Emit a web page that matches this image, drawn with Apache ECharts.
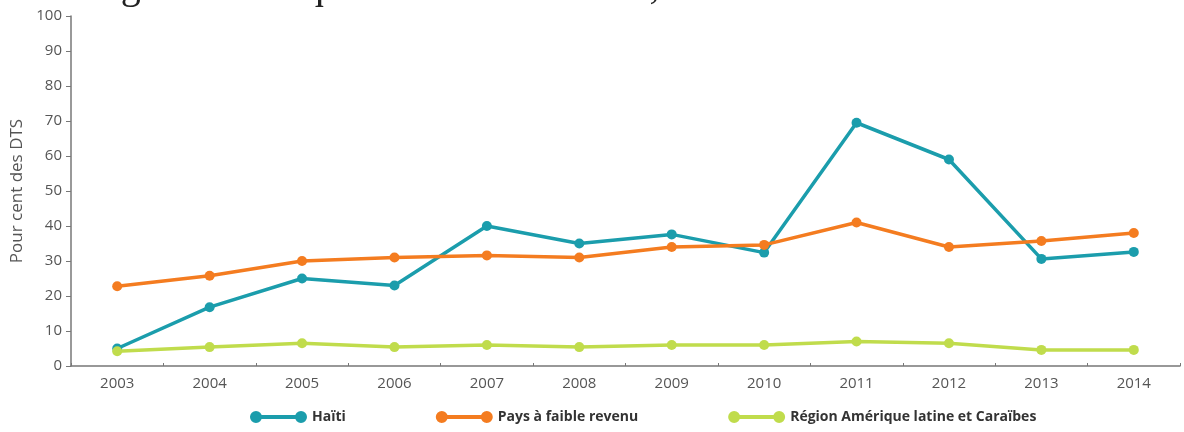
<!DOCTYPE html>
<html lang="fr">
<head>
    <meta charset="utf-8" />
    <title>Pour cent des DTS</title>
    <script src="https://cdn.jsdelivr.net/npm/echarts@6/dist/echarts.min.js"></script>
    <style>
        html, body { margin: 0; padding: 0; background: #fff; }
        #main { width: 1184px; height: 432px; }
    </style>
</head>
<body>
<div id="main"></div>
<script>
    // années et séries
    const years = ['2003', '2004', '2005', '2006', '2007', '2008', '2009', '2010', '2011', '2012', '2013', '2014']
    const haiti = [5, 16.8, 25, 23, 40, 35, 37.6, 32.4, 69.5, 59, 30.6, 32.6]
    const faibleRevenu = [22.8, 25.8, 30, 31, 31.6, 31, 34, 34.6, 41, 34, 35.7, 38]
    const ameriqueLatine = [4.2, 5.4, 6.5, 5.4, 6, 5.4, 6, 6, 7, 6.5, 4.6, 4.6]
    const yTicks = [0, 10, 20, 30, 40, 50, 60, 70, 80, 90, 100]

    let colorHaiti = '#1b9dac'
    let colorFaible = '#f47c20'
    let colorAmerique = '#c0dc4c'
    let fontNarrow = "'Open Sans', sans-serif"
    // deux pastilles reliées par un trait, comme dans la légende d'origine
    let legendIcon = 'path://M6,0 A6,6 0 1,0 6,12 A6,6 0 1,0 6,0 Z M51,0 A6,6 0 1,0 51,12 A6,6 0 1,0 51,0 Z M6,4 L6,8 L51,8 L51,4 Z'

    const makeSeries = (name, data, color) => ({
        name: name,
        type: 'line',
        data: data,
        symbol: 'circle',
        symbolSize: 10,
        lineStyle: { width: 3.5, color: color },
        itemStyle: { color: color },
        emphasis: { disabled: true },
    })

    let myChart = echarts.init(document.getElementById('main'), null, { renderer: 'canvas' })

    myChart.setOption({
        animation: false,
        // ligne de titre coupée en haut de l'image
        title: {
            text: 've la région Amérique latine et Caraïbes, 2003–2014',
            left: -2,
            top: -38,
            textStyle: {
                fontFamily: "'Liberation Serif', 'DejaVu Serif', serif",
                fontWeight: 'normal',
                fontSize: 40,
                color: '#222',
            },
        },
        grid: {
            left: 71,
            right: 4,
            top: 16,
            bottom: 66,
            containLabel: false,
        },
        legend: {
            bottom: 3,
            left: 245,
            itemWidth: 57,
            itemHeight: 12,
            itemGap: 90,
            icon: legendIcon,
            textStyle: {
                fontFamily: fontNarrow,
                fontWeight: 'bold',
                fontSize: 14,
                color: '#333',
            },
            data: ['Haïti', 'Pays à faible revenu', 'Région Amérique latine et Caraïbes'],
        },
        xAxis: {
            type: 'category',
            data: years,
            boundaryGap: true,
            axisLine: { lineStyle: { color: '#777', width: 1.5 } },
            axisTick: { show: true, inside: true, length: 3, lineStyle: { color: '#777' } },
            axisLabel: {
                margin: 10,
                fontFamily: fontNarrow,
                fontSize: 15,
                color: '#555',
            },
        },
        yAxis: {
            type: 'value',
            min: yTicks[0],
            max: yTicks[yTicks.length - 1],
            interval: 10,
            name: 'Pour cent des DTS',
            nameLocation: 'middle',
            nameGap: 40,
            nameTextStyle: {
                fontFamily: fontNarrow,
                fontSize: 17,
                color: '#555',
            },
            axisLine: { show: true, lineStyle: { color: '#777', width: 1.5 } },
            axisTick: { show: true, length: 5, lineStyle: { color: '#777' } },
            splitLine: { show: false },
            axisLabel: {
                margin: 9,
                fontFamily: fontNarrow,
                fontSize: 15,
                color: '#555',
            },
        },
        series: [
            makeSeries('Haïti', haiti, colorHaiti),
            makeSeries('Pays à faible revenu', faibleRevenu, colorFaible),
            makeSeries('Région Amérique latine et Caraïbes', ameriqueLatine, colorAmerique),
        ],
    })
</script>
</body>
</html>
